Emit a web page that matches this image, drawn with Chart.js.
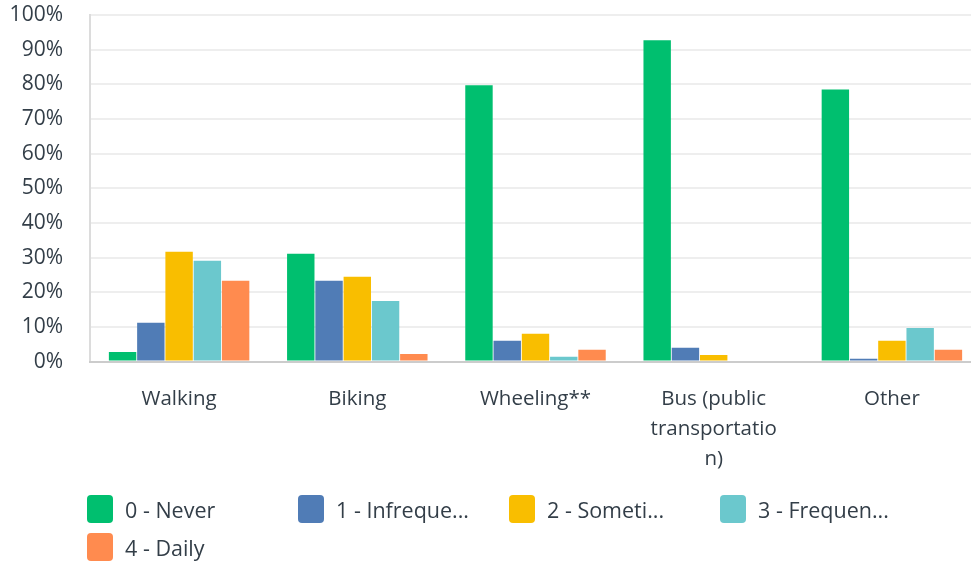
<!DOCTYPE html>
<html>
<head>
<meta charset="utf-8">
<script src="https://cdn.jsdelivr.net/npm/chart.js@4/dist/chart.umd.min.js"></script>
<style>
    body { margin: 0; background: #fff; font-family: 'Open Sans', sans-serif; overflow: hidden; }
    #wrap { width: 971px; height: 562px; position: relative; overflow: hidden; }
    #chart-box { width: 981px; height: 496px; position: absolute; left: 0; top: 0; }
    #legend { position: absolute; left: 87px; top: 495px; width: 880px; display: flex; flex-wrap: wrap; }
    .legend-item { width: 211px; height: 28px; margin-bottom: 10px; display: flex; align-items: center; color: #333e48; font-size: 21.5px; }
    .legend-box { width: 26px; height: 28px; border-radius: 4px; margin-right: 12px; flex: none; }
</style>
</head>
<body>
<div id="wrap">
    <div id="chart-box"><canvas id="chart-main"></canvas></div>
    <div id="legend"></div>
</div>
<script>
const categories = ['Walking', 'Biking', 'Wheeling**', ['Bus (public', 'transportatio', 'n)'], 'Other'];
const seriesNames = ['0 - Never', '1 - Infreque...', '2 - Someti...', '3 - Frequen...', '4 - Daily'];
const seriesColors = ['#00BF6F', '#507CB6', '#F9BE00', '#6BC8CD', '#FF8B4F'];
const never = [2.8, 31.1, 79.7, 92.7, 78.5];
const infrequent = [11.2, 23.3, 6.0, 4.0, 0.8];
const sometimes = [31.7, 24.5, 8.0, 1.9, 6.0];
const frequent = [29.1, 17.5, 1.4, 0.3, 9.7];
const daily = [23.3, 2.2, 3.4, 0, 3.4];
const yTicks = [0, 10, 20, 30, 40, 50, 60, 70, 80, 90, 100];

const allValues = [never, infrequent, sometimes, frequent, daily];
const textColor = '#333e48';

const legendEl = document.getElementById('legend');
seriesNames.forEach(function (name, i) {
    const item = document.createElement('div');
    item.className = 'legend-item';
    item.innerHTML = '<span class="legend-box" style="background:' + seriesColors[i] + '"></span>' + name;
    legendEl.appendChild(item);
});

function drawGraph(id) {
    const ctx = document.getElementById(id);
    return new Chart(ctx, {
        type: 'bar',
        data: {
            labels: categories,
            datasets: allValues.map(function (vals, i) {
                return {
                    label: seriesNames[i],
                    data: vals,
                    backgroundColor: seriesColors[i],
                    borderWidth: 0,
                    categoryPercentage: 0.793,
                    barPercentage: 0.97
                };
            })
        },
        options: {
            responsive: true,
            maintainAspectRatio: false,
            animation: false,
            layout: { padding: { top: 15, right: 0 } },
            plugins: {
                legend: { display: false },
                tooltip: { enabled: false }
            },
            scales: {
                y: {
                    min: 0,
                    max: 100,
                    afterBuildTicks: function (scale) {
                        scale.ticks = yTicks.map(function (v) { return { value: v }; });
                    },
                    afterFit: function (scale) { scale.width = 90; },
                    ticks: {
                        callback: function (v) { return v + '%'; },
                        color: textColor,
                        font: { family: 'Open Sans', size: 21 },
                        padding: 0
                    },
                    grid: { color: '#eeeeee', lineWidth: 2, drawTicks: true, tickLength: 27, tickColor: 'rgba(0,0,0,0)' },
                    border: { color: '#dcdcdc', width: 2 }
                },
                x: {
                    grid: { display: false, drawTicks: false },
                    border: { color: '#cccccc', width: 2 },
                    ticks: {
                        color: textColor,
                        font: { family: 'Open Sans', size: 20.5, lineHeight: 1.47 },
                        padding: 22,
                        maxRotation: 0,
                        autoSkip: false
                    }
                }
            }
        }
    });
}

drawGraph('chart-main');
</script>
</body>
</html>
